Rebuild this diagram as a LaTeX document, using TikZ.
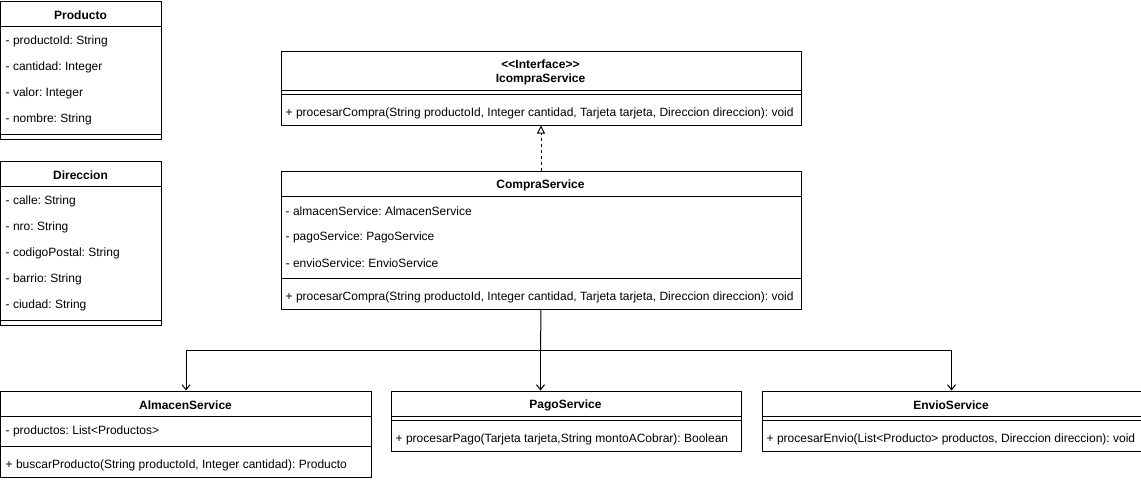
\documentclass[tikz,border=0pt]{standalone}
\usepackage{fontspec}
\setmainfont{Liberation Sans}
\usetikzlibrary{arrows.meta}
\frenchspacing
\newcommand{\hLine}[3]{%%
  %% A separator inside a class box.
  \draw[lineStyle] (#1,#3) -- (#2,#3);
}
\newcommand{\member}[4]{%%
  \node[memberStyle] (#1) at (#2,#3) {#4};
}

\begin{document}
\begin{tikzpicture}[x=1pt,y=-1pt,%%
  boxStyle/.style={draw,line width=1pt,rectangle,anchor=north west,inner sep=0pt},%%
  titleStyle/.style={font=\bfseries\fontsize{12}{14}\selectfont,inner sep=0pt,align=center,yshift=-1.5pt},%%
  memberStyle/.style={anchor=west,font=\fontsize{12}{14}\selectfont,inner sep=0pt,yshift=-1.5pt},%%
  lineStyle/.style={-,line width=1pt},%%
  arrowStyle/.style={-{Straight Barb[length=5pt,width=8pt]},line width=1pt},%%
  dashStyle/.style={-{Triangle[open,length=8pt,width=8pt]},line width=1pt,dash pattern=on 3pt off 3pt}
]
\useasboundingbox (-0.5,-0.5) rectangle (1140.5,479.5);
%%
%% Producto
\node[boxStyle,minimum width=160pt,minimum height=138pt] (producto) at (0,0) {};
\node[titleStyle] (productoTitle) at (80,13) {Producto};
\hLine{0}{160}{26}
\member{prodA}{5}{39}{- productoId: String}
\member{prodB}{5}{65}{- cantidad: Integer}
\member{prodC}{5}{91}{- valor: Integer}
\member{prodD}{5}{117}{- nombre: String}
\hLine{0}{160}{134}
%%
%% Direccion
\node[boxStyle,minimum width=160pt,minimum height=164pt] (direccion) at (0,160) {};
\node[titleStyle] (direccionTitle) at (80,173) {Direccion};
\hLine{0}{160}{186}
\member{dirA}{5}{199}{- calle: String}
\member{dirB}{5}{225}{- nro: String}
\member{dirC}{5}{251}{- codigoPostal: String}
\member{dirD}{5}{277}{- barrio: String}
\member{dirE}{5}{303}{- ciudad: String}
\hLine{0}{160}{320}
%%
%% IcompraService
\node[boxStyle,minimum width=520pt,minimum height=74pt] (icompra) at (280,50) {};
\node[titleStyle] (icompraTitle) at (540,70) {<{}<Interface>{}>\\IcompraService};
\hLine{280}{800}{90}
\hLine{280}{800}{94}
\member{icompraM}{285}{111}{+ procesarCompra(String productoId, Integer cantidad, Tarjeta tarjeta, Direccion direccion): void}
%%
%% CompraService
\node[boxStyle,minimum width=520pt,minimum height=138pt] (compra) at (280,170) {};
\node[titleStyle] (compraTitle) at (540,183) {CompraService};
\hLine{280}{800}{196}
\member{compraA}{285}{209}{- almacenService: AlmacenService}
\member{compraB}{285}{235}{- pagoService: PagoService}
\member{compraC}{285}{261}{- envioService: EnvioService}
\hLine{280}{800}{278}
\member{compraM}{285}{295}{+ procesarCompra(String productoId, Integer cantidad, Tarjeta tarjeta, Direccion direccion): void}
%%
%% AlmacenService
\node[boxStyle,minimum width=370pt,minimum height=86pt] (almacen) at (0,390) {};
\node[titleStyle] (almacenTitle) at (185,403) {AlmacenService};
\hLine{0}{370}{416}
\member{almacenA}{5}{429}{- productos: List<Productos>}
\hLine{0}{370}{446}
\member{almacenM}{5}{463}{+ buscarProducto(String productoId, Integer cantidad): Producto}
%%
%% PagoService
\node[boxStyle,minimum width=350pt,minimum height=60pt] (pago) at (390,390) {};
\node[titleStyle] (pagoTitle) at (565,403) {PagoService};
\hLine{390}{740}{416}
\hLine{390}{740}{420}
\member{pagoM}{395}{437}{+ procesarPago(Tarjeta tarjeta,String montoACobrar): Boolean}
%%
%% EnvioService
\node[boxStyle,minimum width=379pt,minimum height=60pt] (envio) at (761,390) {};
\node[titleStyle] (envioTitle) at (950.5,403) {EnvioService};
\hLine{761}{1140}{416}
\hLine{761}{1140}{420}
\member{envioM}{766}{437}{+ procesarEnvio(List<Producto> productos, Direccion direccion): void}
%%
%% Connectors.
\coordinate (split) at (540,350);
\draw[dashStyle] (compra.north) -- (icompra.south);
\draw[lineStyle] (compra.south) -- (split);
\draw[arrowStyle] (split) -| (almacen.north);
\draw[arrowStyle] (split) -- (split |- pago.north);
\draw[arrowStyle] (split) -| (envio.north);
\end{tikzpicture}
\end{document}
